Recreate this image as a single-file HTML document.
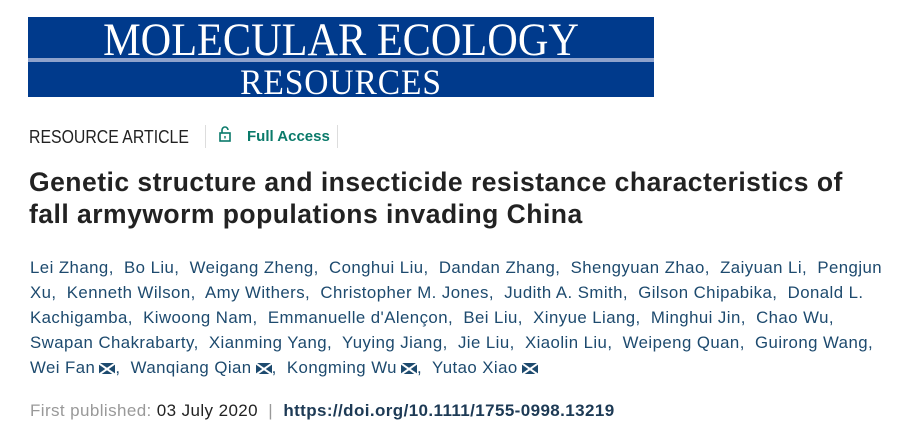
<!DOCTYPE html>
<html><head><meta charset="utf-8"><style>
body{margin:0;width:912px;height:433px;background:#fff;position:relative;overflow:hidden;font-family:"Liberation Sans",sans-serif}
.b{position:absolute;left:28px;top:17px;width:626px;height:80px;background:#003a8c}
.s{position:absolute;left:0;top:41px;width:626px;height:4px;background:#8ea2cc}
.t1,.t2{position:absolute;left:0;width:626px;text-align:center;color:#fff;font-family:"Liberation Serif",serif;white-space:nowrap}
.t1{top:-4px;font-size:47px;transform:scaleX(0.9)}
.t2{top:44px;font-size:36px;letter-spacing:1px;transform:scaleX(0.93)}
.a{position:absolute;white-space:nowrap}
.au{position:absolute;left:30px;font-size:16.8px;letter-spacing:0.45px;color:#1d4a6e;white-space:nowrap}
.m{display:inline-block;width:16px;height:11px;margin-left:4px;background:#1d4a6e;vertical-align:-1px;position:relative;overflow:hidden}
.m:before,.m:after{content:"";position:absolute;left:-2px;top:5px;width:20px;height:1.5px;background:#fff}
.m:before{transform:rotate(35deg)}.m:after{transform:rotate(-35deg)}
</style></head><body>
<div class="b"><div class="t1">MOLECULAR ECOLOGY</div><div class="s"></div><div class="t2">RESOURCES</div></div>
<div class="a" style="left:29px;top:127px;font-size:18px;color:#222;transform:scaleX(0.88);transform-origin:left">RESOURCE ARTICLE</div>
<div class="a" style="left:205px;top:125px;width:1px;height:23px;background:#ddd"></div>
<div class="a" style="left:219px;top:126px;width:10px;height:14px;">
<svg width="12" height="16" viewBox="0 0 12 16"><path d="M3 7V4a3 3 0 0 1 6 0" fill="none" stroke="#0a7a6a" stroke-width="1.6"/><rect x="1" y="7" width="10" height="8" fill="none" stroke="#0a7a6a" stroke-width="1.6"/><rect x="5.3" y="10" width="1.4" height="2.5" fill="#0a7a6a"/></svg></div>
<div class="a" style="left:247px;top:128px;font-size:15px;color:#0a7a6a;font-weight:bold">Full Access</div>
<div class="a" style="left:337px;top:125px;width:1px;height:23px;background:#ddd"></div>
<div class="a" style="left:29px;top:166px;font-size:26.5px;letter-spacing:0.48px;font-weight:bold;color:#222;line-height:32px">Genetic structure and insecticide resistance characteristics of<br>fall armyworm populations invading China</div>
<div class="au" style="top:258px">Lei Zhang,&nbsp; Bo Liu,&nbsp; Weigang Zheng,&nbsp; Conghui Liu,&nbsp; Dandan Zhang,&nbsp; Shengyuan Zhao,&nbsp; Zaiyuan Li,&nbsp; Pengjun</div>
<div class="au" style="top:283px">Xu,&nbsp; Kenneth Wilson,&nbsp; Amy Withers,&nbsp; Christopher M. Jones,&nbsp; Judith A. Smith,&nbsp; Gilson Chipabika,&nbsp; Donald L.</div>
<div class="au" style="top:308px">Kachigamba,&nbsp; Kiwoong Nam,&nbsp; Emmanuelle d'Alençon,&nbsp; Bei Liu,&nbsp; Xinyue Liang,&nbsp; Minghui Jin,&nbsp; Chao Wu,</div>
<div class="au" style="top:333px">Swapan Chakrabarty,&nbsp; Xianming Yang,&nbsp; Yuying Jiang,&nbsp; Jie Liu,&nbsp; Xiaolin Liu,&nbsp; Weipeng Quan,&nbsp; Guirong Wang,</div>
<div class="au" style="top:358px">Wei Fan<span class="m"></span>,&nbsp; Wanqiang Qian<span class="m"></span>,&nbsp; Kongming Wu<span class="m"></span>,&nbsp; Yutao Xiao<span class="m"></span></div>
<div class="a" style="left:30px;top:401px;font-size:17px;letter-spacing:0.4px;color:#999">First published: <span style="color:#222">03 July 2020</span> &nbsp;| &nbsp;<b style="color:#1d3a55">https://doi.org/10.1111/1755-0998.13219</b></div>
</body></html>
